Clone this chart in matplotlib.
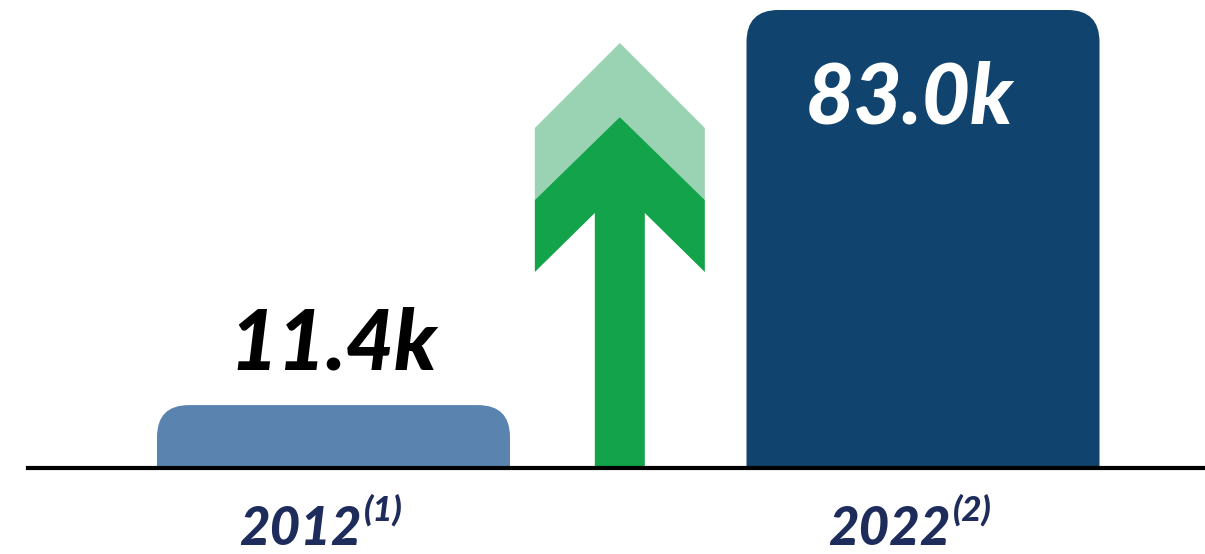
import matplotlib
matplotlib.use("Agg")
import matplotlib.pyplot as plt
from matplotlib.path import Path
from matplotlib.patches import PathPatch, Polygon

# Data
years = ["2012", "2022"]
notes = ["(1)", "(2)"]
values = [11.4, 83.0]          # thousands
value_labels = ["11.4k", "83.0k"]
bar_colors = ["#5A84AF", "#10436D"]
label_colors = ["#000000", "#FFFFFF"]

W, H = 1205, 554
fig = plt.figure(figsize=(W / 100, H / 100), dpi=100)
ax = fig.add_axes([0, 0, 1, 1])

# Scales: baseline 86 px above bottom, 83.0 reaches 10 px below top
px_per_unit_y = 458 / 83.0
px_per_unit_x = 589.5
ax.set_ylim(-86 / px_per_unit_y, (H - 86) / px_per_unit_y)
ax.set_xlim(-333.5 / px_per_unit_x, 1 + (W - 923) / px_per_unit_x)
ax.axis("off")

bars = ax.bar(range(len(values)), values, width=353 / px_per_unit_x,
              color=bar_colors, zorder=2)


def rounded_top(rect, r_px=32):
    """Replace a bar rectangle with a path whose top corners are rounded."""
    x0, y0 = rect.get_x(), rect.get_y()
    w, h = rect.get_width(), rect.get_height()
    x1, y1 = x0 + w, y0 + h
    rx = r_px / px_per_unit_x
    ry = min(r_px / px_per_unit_y, h)
    verts = [(x0, y0), (x0, y1 - ry), (x0, y1), (x0 + rx, y1),
             (x1 - rx, y1), (x1, y1), (x1, y1 - ry), (x1, y0), (x0, y0)]
    codes = [Path.MOVETO, Path.LINETO, Path.CURVE3, Path.CURVE3,
             Path.LINETO, Path.CURVE3, Path.CURVE3, Path.LINETO, Path.CLOSEPOLY]
    return Path(verts, codes)


for rect, c in zip(bars, bar_colors):
    rect.set_visible(False)
    ax.add_patch(PathPatch(rounded_top(rect), facecolor=c, edgecolor="none", zorder=2))

# Baseline
ax.axhline(0, xmin=28 / W, xmax=1, color="black", linewidth=3.0, zorder=3)

font = dict(family="Lato", weight="black", style="italic")

# Value labels
ax.text(0, values[0] + 36 / px_per_unit_y, value_labels[0], ha="center", va="baseline",
        fontsize=60, color=label_colors[0], zorder=4, **font)
ax.text(1 - 13 / px_per_unit_x, values[1] - 113 / px_per_unit_y, value_labels[1],
        ha="center", va="baseline", fontsize=60, color=label_colors[1], zorder=4, **font)

# Category labels with footnote markers
for i, (yr, nt) in enumerate(zip(years, notes)):
    xr = i + 28 / px_per_unit_x
    ax.text(xr, -77 / px_per_unit_y, yr, ha="right", va="baseline", fontsize=38,
            color="#1E2C5B", **font)
    ax.text(xr + 2 / px_per_unit_x, -52 / px_per_unit_y, nt, ha="left", va="baseline",
            fontsize=25, color="#1E2C5B", **font)

# Growth arrow between the bars (pixel geometry relative to its centre)
cx = 0.4857


def arrow_pts(pts):
    return [(cx + dx / px_per_unit_x, (468 - py) / px_per_unit_y) for dx, py in pts]


light = [(-85, 128), (0, 43), (85, 128), (85, 200), (0, 117), (-85, 200)]
dark = [(-85, 200), (0, 117), (85, 200), (85, 272), (25, 213), (25, 468),
        (-25, 468), (-25, 213), (-85, 272)]
ax.add_patch(Polygon(arrow_pts(light), closed=True, facecolor="#99D3B3",
                     edgecolor="none", zorder=2))
ax.add_patch(Polygon(arrow_pts(dark), closed=True, facecolor="#13A34A",
                     edgecolor="none", zorder=2))

fig.savefig("out.png", dpi=100, facecolor="white")
